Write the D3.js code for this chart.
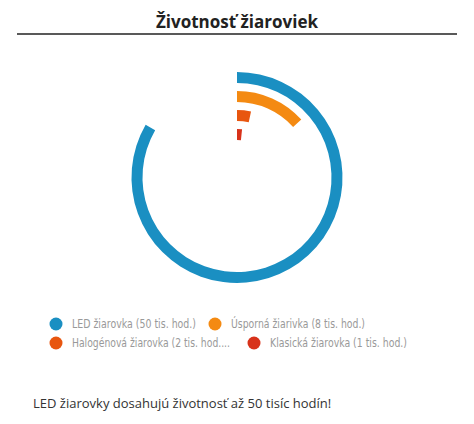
<!DOCTYPE html><html><head><meta charset="utf-8"><script src="https://cdn.jsdelivr.net/npm/d3@7"></script>
<style>body{margin:0;background:#fff}</style></head><body><svg id="c" width="474" height="424"></svg>
<script>
const categories=["LED žiarovka (50 tis. hod.)","Úsporná žiarivka (8 tis. hod.)","Halogénová žiarovka (2 tis. hod....","Klasická žiarovka (1 tis. hod.)"];
const values=[50,8,2,1];
const colors=["#1a8fc2","#f48a12","#e8560f","#d8321a"];
const maxValue=60;
const svg=d3.select("#c");
svg.append("text").attr("x",237).attr("y",28).attr("text-anchor","middle").attr("font-family","Open Sans").attr("font-weight","bold").attr("font-size",17).attr("fill","#222").text("Životnosť žiaroviek");
svg.append("line").attr("x1",17).attr("x2",457).attr("y1",34).attr("y2",34).attr("stroke","#222").attr("stroke-width",1.5);
const g=svg.append("g").attr("transform","translate(237,177.5)");
const ang=d3.scaleLinear().domain([0,maxValue]).range([0,2*Math.PI]);
const rad=d3.scaleLinear().domain([0,3]).range([105.5,48.5]);
values.forEach((v,i)=>{
  const ro=rad(i), ri=ro-11;
  g.append("path").attr("d",d3.arc()({innerRadius:ri,outerRadius:ro,startAngle:0,endAngle:ang(v)})).attr("fill",colors[i]);
});
const legPos=[[56,324,124],[215,324,134],[56,343,158],[254,343,137]];
const lg=svg.append("g").attr("font-family","DejaVu Sans").attr("font-size",11.5).attr("fill","#999");
categories.forEach((c,i)=>{
  const [x,y,w]=legPos[i];
  lg.append("circle").attr("cx",x).attr("cy",y).attr("r",6.5).attr("fill",colors[i]);
  lg.append("text").attr("x",x+16).attr("y",y+4).attr("textLength",w).attr("lengthAdjust","spacingAndGlyphs").text(c);
});
svg.append("text").attr("x",33).attr("y",408).attr("font-family","Open Sans").attr("font-size",13).attr("fill","#333").text("LED žiarovky dosahujú životnosť až 50 tisíc hodín!");
</script></body></html>
